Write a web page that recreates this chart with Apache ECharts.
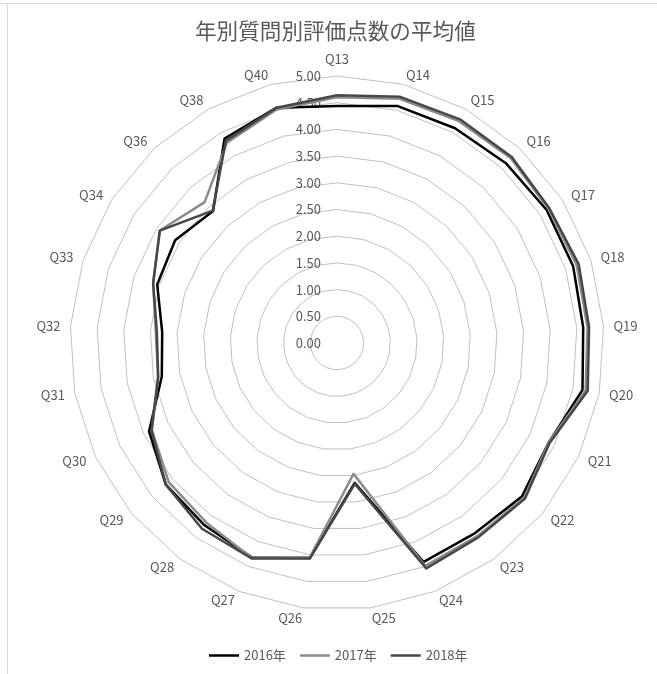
<!DOCTYPE html>
<html>
<head>
<meta charset="utf-8">
<script src="https://cdn.jsdelivr.net/npm/echarts@6/dist/echarts.min.js"></script>
<style>
  html, body { margin: 0; padding: 0; background: #ffffff; }
  #chart { width: 657px; height: 674px; }
</style>
</head>
<body>
<div id="chart"></div>
<script>
// Questions, listed clockwise starting from the top of the radar
const categories = ['Q13','Q14','Q15','Q16','Q17','Q18','Q19','Q20','Q21','Q22','Q23','Q24','Q25',
                    'Q26','Q27','Q28','Q29','Q30','Q31','Q32','Q33','Q34','Q36','Q38','Q40'];

// Average score per question, by year
const values2016 = [4.44, 4.58, 4.59, 4.62, 4.65, 4.65, 4.62, 4.68, 4.38, 4.50, 4.40, 4.41, 2.64,
                    4.06, 4.32, 4.22, 4.16, 3.89, 3.34, 3.28, 3.54, 3.59, 3.39, 4.37, 4.55];
const values2017 = [4.60, 4.72, 4.74, 4.75, 4.69, 4.72, 4.70, 4.74, 4.38, 4.55, 4.47, 4.49, 2.47,
                    4.04, 4.33, 4.16, 4.09, 3.83, 3.41, 3.40, 3.62, 3.93, 3.62, 4.28, 4.52];
const values2018 = [4.64, 4.76, 4.78, 4.78, 4.71, 4.76, 4.73, 4.78, 4.40, 4.57, 4.50, 4.54, 2.66,
                    4.07, 4.34, 4.30, 4.16, 3.84, 3.41, 3.38, 3.62, 3.93, 3.40, 4.32, 4.55];

const seriesNames = ['2016年', '2017年', '2018年'];
const seriesColors = ['#000000', '#8c8c8c', '#474747'];
const titleText = '年別質問別評価点数の平均値';

const scaleMin = 0;
const scaleMax = 5;
const scaleSteps = 10;

// ECharts lays radar indicators out counter-clockwise; keep the first one at the top
// and reverse the rest so the questions run clockwise.
const order = [0];
for (let i = categories.length - 1; i >= 1; i--) order.push(i);
const reorder = arr => order.map(i => arr[i]);

const font = '"Noto Sans CJK JP", "Noto Sans", sans-serif';
const textColor = '#595959';

const indicators = order.map((idx, k) => {
  const ind = { name: categories[idx], min: scaleMin, max: scaleMax };
  if (k === 0) {
    // scale labels only along the vertical axis
    ind.axisLabel = {
      show: true,
      color: textColor,
      fontSize: 13,
      fontFamily: font,
      margin: 16,
      formatter: v => Number(v).toFixed(2)
    };
  }
  return ind;
});

const allValues = [values2016, values2017, values2018];

const chart = echarts.init(document.getElementById('chart'), null, { renderer: 'canvas' });
chart.setOption({
  backgroundColor: '#ffffff',
  animation: false,
  title: {
    text: titleText,
    left: 190,
    top: 15,
    textStyle: { color: textColor, fontSize: 21.6, fontWeight: 'normal', fontFamily: font }
  },
  legend: {
    data: seriesNames,
    left: 204,
    top: 644,
    icon: 'rect',
    itemWidth: 30,
    itemHeight: 2.5,
    itemGap: 14,
    textStyle: { color: textColor, fontSize: 13, fontFamily: font }
  },
  radar: {
    center: [337, 343],
    radius: 267,
    startAngle: 90,
    shape: 'polygon',
    splitNumber: scaleSteps,
    indicator: indicators,
    nameGap: 10,
    axisName: { color: textColor, fontSize: 13, fontFamily: font },
    axisLine: { show: false },
    axisTick: { show: false },
    axisLabel: { show: false },
    splitLine: { lineStyle: { color: '#c0c0c0', width: 1 } },
    splitArea: { show: false }
  },
  series: [{
    type: 'radar',
    symbol: 'none',
    data: allValues.map((vals, i) => ({
      name: seriesNames[i],
      value: reorder(vals),
      lineStyle: { color: seriesColors[i], width: 2.5 },
      itemStyle: { color: seriesColors[i] }
    }))
  }],
  graphic: [
    { type: 'line', shape: { x1: 0, y1: 3.5, x2: 657, y2: 3.5 }, style: { stroke: '#d9d9d9', lineWidth: 1 }, silent: true },
    { type: 'line', shape: { x1: 7.5, y1: 3.5, x2: 7.5, y2: 674 }, style: { stroke: '#d9d9d9', lineWidth: 1 }, silent: true }
  ]
});
</script>
</body>
</html>
